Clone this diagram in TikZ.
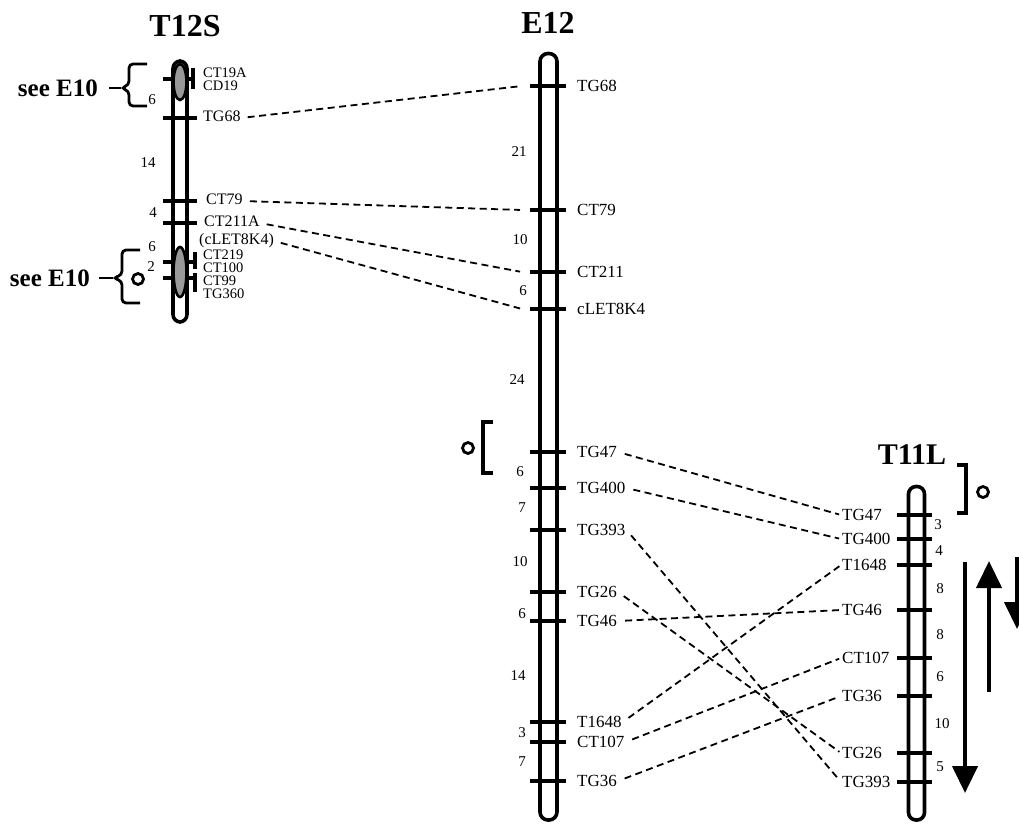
\documentclass[tikz,border=0pt]{standalone}
\usepackage{fontspec}
\setmainfont{Liberation Serif}
\usetikzlibrary{arrows.meta}

\begin{document}
\begin{tikzpicture}[
    x=1pt,
    y=-1pt,
    chrom/.style={line width=3.6pt, rounded corners=7.5pt, fill=white},
    tick/.style={line width=3.2pt},
    cen/.style={line width=2.6pt, fill=black!40},
    mk/.style={font=\fontsize{17}{17}\selectfont, inner sep=1pt},
    smk/.style={font=\fontsize{16}{16}\selectfont, inner sep=0pt, text height=1.45ex, text depth=0pt},
    tmk/.style={smk, font=\fontsize{14.5}{14.5}\selectfont},
    gap/.style={font=\fontsize{15}{15}\selectfont, inner sep=0pt},
    ttl/.style={font=\fontsize{32}{32}\selectfont\bfseries},
    see/.style={font=\fontsize{25}{25}\selectfont\bfseries, inner sep=0pt},
    brk/.style={line width=2.8pt, rounded corners=4pt},
    sq/.style={line width=4.8pt},
    ring/.style={line width=2.8pt},
    link/.style={line width=1.8pt, dash pattern=on 7pt off 4.5pt, shorten <=7pt, shorten >=2pt},
    dir/.style={line width=4.2pt, -{Triangle[width=25pt,length=27pt]}}
  ]
    \useasboundingbox (0,0) rectangle (1019,823);

    % T12S
    \node[ttl] (t12s) at (185,26) {T12S};
    \draw[chrom] (173,61) rectangle (187,322);
    \foreach \y in {118,201,223} \draw[tick] (163,\y) -- (197,\y);
    \draw[tick] (163,79) -- (193,79);
    \draw[tick] (193,68) -- (193,89);
    \draw[tick] (163,262) -- (195,262);
    \draw[tick] (195,252) -- (195,269);
    \draw[tick] (163,278) -- (195,278);
    \draw[tick] (195,273) -- (195,292);
    \draw[cen] (180,82) ellipse (6.5pt and 18pt);
    \draw[cen] (180,272) ellipse (6.5pt and 25pt);

    \node[tmk, anchor=west] (s-ct19a) at (203,74) {CT19A};
    \node[tmk, anchor=west] (s-cd19) at (203,87) {CD19};
    \node[smk, anchor=west] (s-tg68) at (203,118) {TG68};
    \node[smk, anchor=west] (s-ct79) at (206,201) {CT79};
    \node[smk, anchor=west] (s-ct211a) at (204,223) {CT211A};
    \node[smk, anchor=west] (s-clet) at (199,241) {(cLET8K4)};
    \node[tmk, anchor=west] (s-ct219) at (203,256) {CT219};
    \node[tmk, anchor=west] (s-ct100) at (203,269) {CT100};
    \node[tmk, anchor=west] (s-ct99) at (203,282) {CT99};
    \node[tmk, anchor=west] (s-tg360) at (203,295) {TG360};

    \foreach \n/\x/\y [count=\i] in {6/152/100, 14/148/163, 4/153/213, 6/152/247, 2/151/267}
      \node[gap] (sg\i) at (\x,\y) {\n};

    % see E10 brackets
    \node[see, anchor=east] (see1) at (98,88) {see E10};
    \coordinate (b1) at (121,88);
    \draw[brk] (147,64) -- (129,64) -- (129,85) -- (121,88) -- (129,91) -- (129,106) -- (147,106);
    \draw[brk] (see1.east) -- (b1) [shorten <=11pt];
    \node[see, anchor=east] (see2) at (90,278) {see E10};
    \coordinate (b2) at (113,278);
    \draw[brk] (140,250) -- (122,250) -- (122,275) -- (113,278) -- (122,281) -- (122,303) -- (140,303);
    \draw[brk] (see2.east) -- (b2) [shorten <=9pt];
    \draw[ring] (138,279) circle (5.5pt);

    % E12
    \node[ttl] (e12) at (548,23) {E12};
    \draw[chrom, rounded corners=8pt] (540,53.5) rectangle (557,820);
    \foreach \nm/\y/\txt in {tg68/86/TG68, ct79/210/CT79, ct211/272/CT211, clet/309/cLET8K4,
        tg47/452/TG47, tg400/488/TG400, tg393/530/TG393, tg26/592/TG26, tg46/621/TG46,
        t1648/722/T1648, ct107/742/CT107, tg36/781/TG36} {
      \draw[tick] (530,\y) -- (566,\y);
      \node[mk, anchor=west] (e-\nm) at (576,\y) {\txt};
      \coordinate (e-\nm-w) at (522,\y);
    }
    \foreach \n/\x/\y [count=\i] in {21/519/152, 10/520/240, 6/523/291, 24/517/380, 6/520/472,
        7/522/508, 10/520/562, 6/522/614, 14/518/676, 3/522/733, 7/522/762}
      \node[gap] (eg\i) at (\x,\y) {\n};
    \draw[sq] (493,422) -- (483,422) -- (483,473) -- (493,473);
    \draw[ring] (468,448) circle (5.5pt);

    % T11L
    \node[ttl, font=\fontsize{30}{30}\selectfont\bfseries] (t11l) at (912,455) {T11L};
    \draw[chrom] (908.5,486.5) rectangle (924.5,820);
    \foreach \nm/\y/\txt in {tg47/515/TG47, tg400/539/TG400, t1648/565/T1648, tg46/610/TG46,
        ct107/658/CT107, tg36/696/TG36, tg26/753/TG26, tg393/782/TG393} {
      \draw[tick] (897,\y) -- (932,\y);
      \node[mk, anchor=west] (l-\nm) at (841,\y) {\txt};
    }
    \foreach \n/\x/\y [count=\i] in {3/938/525, 4/939/551, 8/940/589, 8/940/635, 6/940/677,
        10/942/724, 5/940/767}
      \node[gap] (lg\i) at (\x,\y) {\n};
    \draw[sq] (957,465) -- (966,465) -- (966,513) -- (957,513);
    \draw[ring] (983,492) circle (5.5pt);

    % orientation arrows
    \coordinate (a1s) at (965,562);
    \coordinate (a1e) at (965,793);
    \coordinate (a2s) at (989,692);
    \coordinate (a2e) at (989,561);
    \coordinate (a3s) at (1017,557);
    \coordinate (a3e) at (1017,629);
    \draw[dir] (a1s) -- (a1e);
    \draw[dir] (a2s) -- (a2e);
    \draw[dir] (a3s) -- (a3e);

    % T12S to E12
    \draw[link] (s-tg68.east) -- (e-tg68-w);
    \draw[link] (s-ct79.east) -- (e-ct79-w);
    \draw[link] (s-ct211a.east) -- (e-ct211-w);
    \draw[link] (s-clet.east) -- (e-clet-w);

    % E12 to T11L
    \draw[link] (e-tg47.east) -- (l-tg47.west);
    \draw[link] (e-tg400.east) -- (l-tg400.west);
    \draw[link] (e-tg393.east) -- (l-tg393.west);
    \draw[link] (e-tg26.east) -- (l-tg26.west);
    \draw[link] (e-tg46.east) -- (l-tg46.west);
    \draw[link] (e-t1648.east) -- (l-t1648.west);
    \draw[link] (e-ct107.east) -- (l-ct107.west);
    \draw[link] (e-tg36.east) -- (l-tg36.west);
  \end{tikzpicture}
\end{document}
